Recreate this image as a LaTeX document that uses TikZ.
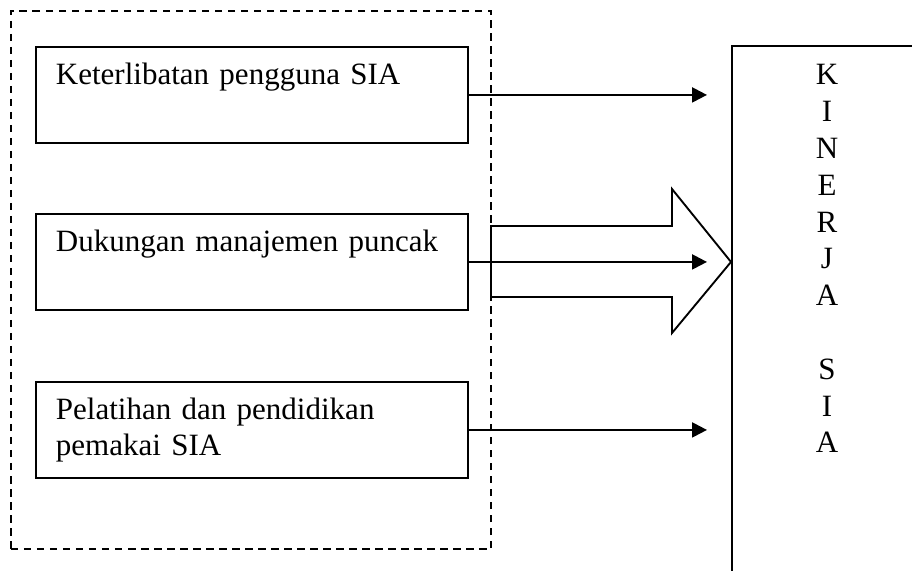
\documentclass[tikz,border=0pt]{standalone}
\usepackage{fontspec}
\setmainfont{Liberation Serif}
\usetikzlibrary{arrows.meta}

\begin{document}
\begin{tikzpicture}[x=0.4pt, y=-0.4pt,
	faktor/.style={draw, line width=0.75pt, anchor=north west, align=left, text width=156.8pt, inner xsep=8pt, inner ysep=0pt, text height=15.2pt, text depth=23.2pt, font=\fontsize{12.4}{14.2}\selectfont},
	panah/.style={-{Triangle[length=6pt,width=6pt]}, line width=0.9pt}]
	\path[use as bounding box, clip] (0,0) rectangle (912,571);
	\node[draw, dash pattern=on 3pt off 2.2pt, line width=0.75pt, minimum width=192pt, minimum height=215.2pt] (G) at (251,280) {};
	\node[faktor] (A) at (35,46) {Keterlibatan pengguna SIA};
	\node[faktor] (B) at (35,213) {Dukungan manajemen puncak};
	\node[faktor] (C) at (35,381) {Pelatihan dan pendidikan\\pemakai SIA};
	\node[draw, line width=0.75pt, anchor=north west, minimum width=100pt, minimum height=240pt, inner sep=0pt] (K) at (731,45) {};
	\node[anchor=north, align=center, inner sep=0pt, font=\fontsize{12.4}{14.72}\selectfont] (KS) at (827,64) {K\\I\\N\\E\\R\\J\\A\\[14.72pt]S\\I\\A};
	\coordinate (T) at (707,0);
	\draw [line width=0.75pt] (491,226) -- (672,226) -- (672,189) -- (K.west |- B.east) -- (672,333) -- (672,297) -- (491,297) -- cycle;
	\draw [panah] (A.east) -- (A.east -| T);
	\draw [panah] (B.east) -- (B.east -| T);
	\draw [panah] (C.east) -- (C.east -| T);
\end{tikzpicture}
\end{document}
